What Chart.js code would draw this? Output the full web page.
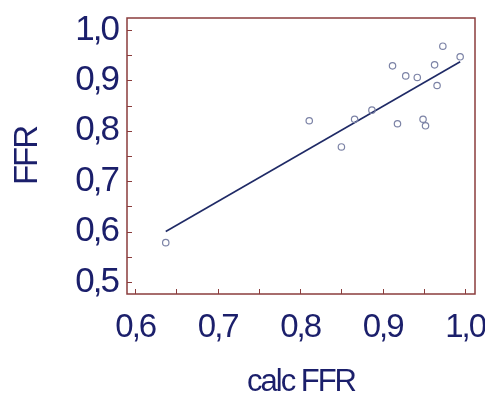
<!DOCTYPE html>
<html>
<head>
<meta charset="utf-8">
<script src="https://cdn.jsdelivr.net/npm/chart.js@4/dist/chart.umd.min.js"></script>
<style>
  html, body { margin: 0; padding: 0; background: #fff; }
  #wrap { width: 485px; height: 401px; }
</style>
</head>
<body>
<div id="wrap"><canvas id="ffrChart"></canvas></div>
<script>
// measured values (calc FFR vs FFR)
var calcFFR = [0.637, 0.811, 0.850, 0.866, 0.887, 0.912, 0.918, 0.928, 0.942, 0.949, 0.952, 0.963, 0.966, 0.973, 0.994];
var ffr     = [0.578, 0.820, 0.768, 0.823, 0.841, 0.929, 0.814, 0.909, 0.906, 0.823, 0.810, 0.931, 0.890, 0.968, 0.947];

// regression line end points
var fitX = [0.637, 0.994];
var fitY = [0.600, 0.937];

// axis ticks
var xTicks = [0.6, 0.65, 0.7, 0.75, 0.8, 0.85, 0.9, 0.95, 1.0];
var yTicks = [0.5, 0.55, 0.6, 0.65, 0.7, 0.75, 0.8, 0.85, 0.9, 0.95, 1.0];
var xLabelTicks = [0.6, 0.7, 0.8, 0.9, 1.0];
var yLabelTicks = [0.5, 0.6, 0.7, 0.8, 0.9, 1.0];

var textColor = '#1b1f6b';
var frameColor = '#8a3c3c';

var points = calcFFR.map(function (v, i) { return {x: v, y: ffr[i]}; });
var fit = fitX.map(function (v, i) { return {x: v, y: fitY[i]}; });

function fmt(v) {
    return v.toFixed(1).replace('.', ',');
}

function isLabel(list, v) {
    return list.some(function (t) { return Math.abs(t - v) < 1e-6; });
}

// tighter lettering for axis text, then frame and inward tick marks
var framePlugin = {
    id: 'frame',
    beforeDraw: function (chart) {
        chart.ctx.letterSpacing = '-2px';
    },
    beforeDatasetsDraw: function (chart) {
        chart.ctx.letterSpacing = '0px';
    },
    afterDraw: function (chart) {
        var ctx = chart.ctx;
        var a = chart.chartArea;
        var xs = chart.scales.x;
        var ys = chart.scales.y;
        ctx.save();
        ctx.strokeStyle = frameColor;
        ctx.lineWidth = 1.5;
        ctx.strokeRect(a.left, a.top, a.right - a.left, a.bottom - a.top);
        ctx.lineWidth = 1;
        ctx.beginPath();
        xs.ticks.forEach(function (t) {
            var px = Math.round(xs.getPixelForValue(t.value)) + 0.5;
            ctx.moveTo(px, a.bottom);
            ctx.lineTo(px, a.bottom - 5);
        });
        ys.ticks.forEach(function (t) {
            var py = Math.round(ys.getPixelForValue(t.value)) + 0.5;
            ctx.moveTo(a.left, py);
            ctx.lineTo(a.left + 5, py);
        });
        ctx.stroke();
        ctx.restore();
    }
};

var ctx = document.getElementById('ffrChart').getContext('2d');

var ffrChart = new Chart(ctx, {
    type: 'scatter',
    data: {
        datasets: [{
            label: 'FFR',
            data: points,
            pointStyle: 'circle',
            pointRadius: 3.2,
            pointBorderWidth: 1.2,
            pointBorderColor: '#7c83a6',
            pointBackgroundColor: 'rgba(0,0,0,0)',
            showLine: false
        }, {
            label: 'fit',
            data: fit,
            showLine: true,
            borderColor: '#1f2a66',
            borderWidth: 1.6,
            pointRadius: 0,
            fill: false
        }]
    },
    options: {
        responsive: true,
        maintainAspectRatio: false,
        animation: false,
        layout: {
            padding: {top: 18, right: 10, left: 0, bottom: 0}
        },
        plugins: {
            legend: {display: false},
            tooltip: {enabled: false}
        },
        scales: {
            x: {
                type: 'linear',
                min: 0.59,
                max: 1.012,
                afterBuildTicks: function (scale) {
                    scale.ticks = xTicks.map(function (v) { return {value: v}; });
                },
                afterFit: function (scale) {
                    scale.height = 107;
                    scale.paddingLeft = 0;
                    scale.paddingRight = 0;
                },
                grid: {display: false, drawTicks: false},
                border: {display: false},
                ticks: {
                    autoSkip: false,
                    maxRotation: 0,
                    padding: 14,
                    color: textColor,
                    font: {family: '"Liberation Sans", Arial', size: 33},
                    callback: function (v) {
                        return isLabel(xLabelTicks, v) ? fmt(v) : '';
                    }
                },
                title: {
                    display: true,
                    text: 'calc FFR',
                    color: textColor,
                    font: {family: '"Liberation Sans", Arial', size: 31},
                    padding: {top: 8, bottom: 0}
                }
            },
            y: {
                type: 'linear',
                min: 0.476,
                max: 1.024,
                afterBuildTicks: function (scale) {
                    scale.ticks = yTicks.map(function (v) { return {value: v}; });
                },
                afterFit: function (scale) {
                    scale.width = 127;
                    scale.paddingTop = 0;
                    scale.paddingBottom = 0;
                },
                grid: {display: false, drawTicks: false},
                border: {display: false},
                ticks: {
                    autoSkip: false,
                    padding: 9,
                    color: textColor,
                    font: {family: '"Liberation Sans", Arial', size: 35},
                    callback: function (v) {
                        return isLabel(yLabelTicks, v) ? fmt(v) : '';
                    }
                },
                title: {
                    display: true,
                    text: 'FFR',
                    color: textColor,
                    font: {family: '"Liberation Sans", Arial', size: 33},
                    padding: {top: 8, bottom: 0}
                }
            }
        }
    },
    plugins: [framePlugin]
});
</script>
</body>
</html>
